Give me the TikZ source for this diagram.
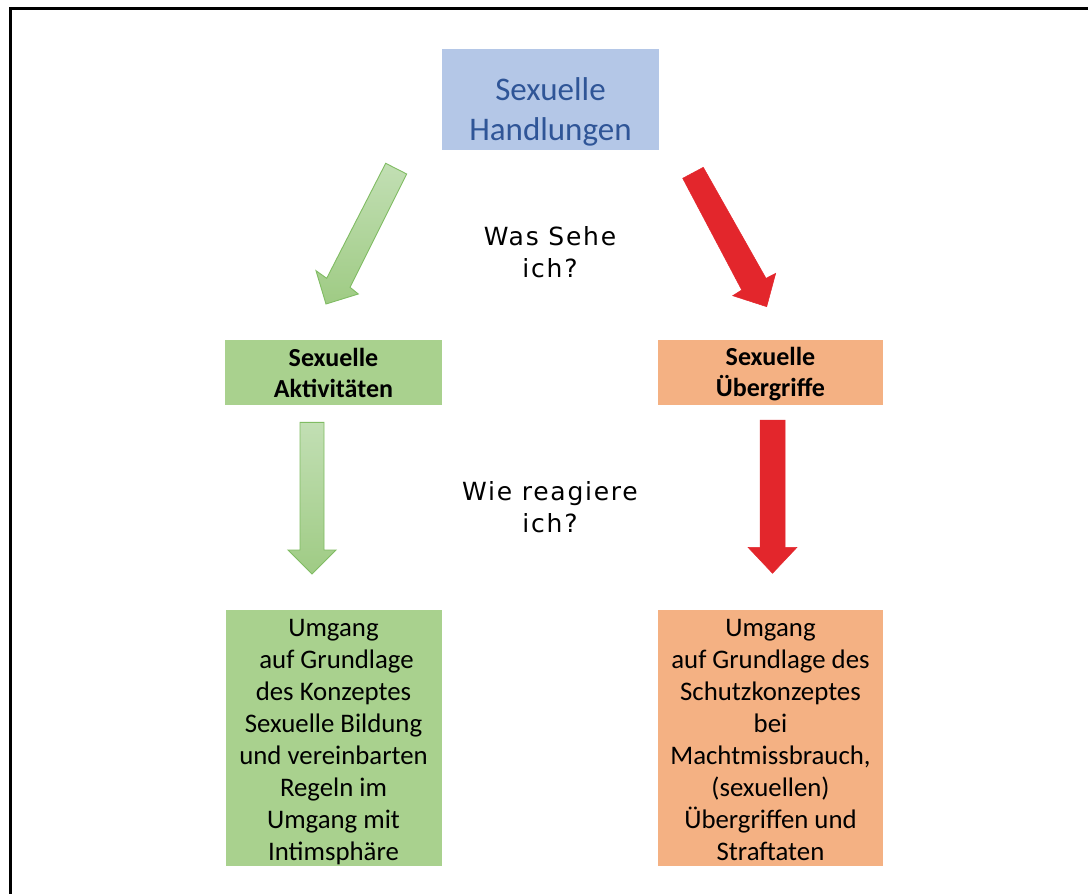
\documentclass[tikz,border=0pt]{standalone}
\usepackage{fontspec}
\setmainfont{Carlito}
\newfontfamily\handfont{DejaVu Sans}[LetterSpace=7]
\definecolor{boxblue}{HTML}{B4C7E7}
\definecolor{txtblue}{HTML}{2F5597}
\definecolor{boxgreen}{HTML}{A9D18E}
\definecolor{boxorange}{HTML}{F4B183}
\definecolor{arrred}{HTML}{E3262C}
\definecolor{arrgreentop}{HTML}{C2DFB4}
\definecolor{arrgreenbot}{HTML}{9FCB84}
\definecolor{arrgreenline}{HTML}{80BC63}
\tikzset{
  box/.style={rectangle, inner sep=0pt, anchor=center},
  lbl/.style={inner sep=0pt, align=center, anchor=center},
  topbox/.style={box, fill=boxblue, minimum width=217pt, minimum height=101pt},
  toplbl/.style={lbl, text=txtblue, font=\fontsize{33}{40}\selectfont},
  midbox/.style={box, minimum height=64.7pt},
  midlbl/.style={lbl, font=\fontsize{26}{30.7}\selectfont\bfseries},
  lowbox/.style={box, minimum height=256pt},
  lowlbl/.style={lbl, font=\fontsize{26.8}{32}\selectfont},
  question/.style={align=center, font=\handfont\fontsize{25}{32.5}\selectfont, text=black},
  greenarrow/.style={top color=arrgreentop, bottom color=arrgreenbot, draw=arrgreenline, line width=0.9pt, line join=miter},
  redarrow/.style={fill=arrred, draw=arrred, line width=0.5pt, line join=miter},
}
\begin{document}
\begin{tikzpicture}[x=1pt, y=-1pt]
\useasboundingbox (0,0) rectangle (1088,894);
\fill[white] (0,0) rectangle (1088,894);
% frame
\draw[line width=3pt] (10.3,894) -- (10.3,8) -- (1088,8);

% boxes
\node[topbox] (top) at (550.5,99.5) {};
\node[toplbl] (toptxt) at ([yshift=-12pt]top.center) {Sexuelle\\Handlungen};

\node[midbox, fill=boxgreen, minimum width=216.5pt] (akt) at (333.5,372.3) {};
\node[midlbl] (akttxt) at ([yshift=-0.5pt]akt.center) {Sexuelle\\Aktivitäten};
\node[midbox, fill=boxorange, minimum width=224.5pt] (ueb) at (770.5,372.3) {};
\node[midlbl] (uebtxt) at ([yshift=-2pt]ueb.center) {Sexuelle\\Übergriffe};

\node[lowbox, fill=boxgreen, minimum width=216pt] (ugreen) at (333.5,738) {};
\node[lowlbl] (ugreentxt) at ([yshift=-4.5pt]ugreen.center)
  {Umgang\\\ auf Grundlage\\des Konzeptes\\Sexuelle Bildung\\und vereinbarten\\Regeln im\\Umgang mit\\Intimsphäre};
\node[lowbox, fill=boxorange, minimum width=225pt] (uorange) at (770.5,738) {};
\node[lowlbl] (uorangetxt) at ([yshift=-2pt]uorange.center)
  {Umgang\\auf Grundlage des\\Schutzkonzeptes\\bei\\Machtmissbrauch,\\(sexuellen)\\Übergriffen und\\Straftaten};

% questions
\node[question] (q1) at (550,252) {Was Sehe\\ich?};
\node[question] (q2) at (550,507) {Wie reagiere\\ich?};

% diagonal arrows
\draw[greenarrow] (385.7,163.3) -- (406.7,174) -- (350,287.3) -- (358.3,294)
  -- (326,304) -- (316,270.7) -- (326.7,278.3) -- cycle;
\draw[redarrow] (682.7,178.3) -- (703.3,167.3) -- (766,278.3) -- (775.7,273.3)
  -- (766.7,306.7) -- (732.7,295.7) -- (741.7,290) -- cycle;

% vertical arrows
\draw[greenarrow] (300,422.3) -- (324,422.3) -- (324,550) -- (336,550)
  -- (312,574) -- (288,550) -- (300,550) -- cycle;
\draw[redarrow] (760,420) -- (785,420) -- (785,547.3) -- (797,547.3)
  -- (772.5,573.3) -- (748,547.3) -- (760,547.3) -- cycle;
\end{tikzpicture}
\end{document}
